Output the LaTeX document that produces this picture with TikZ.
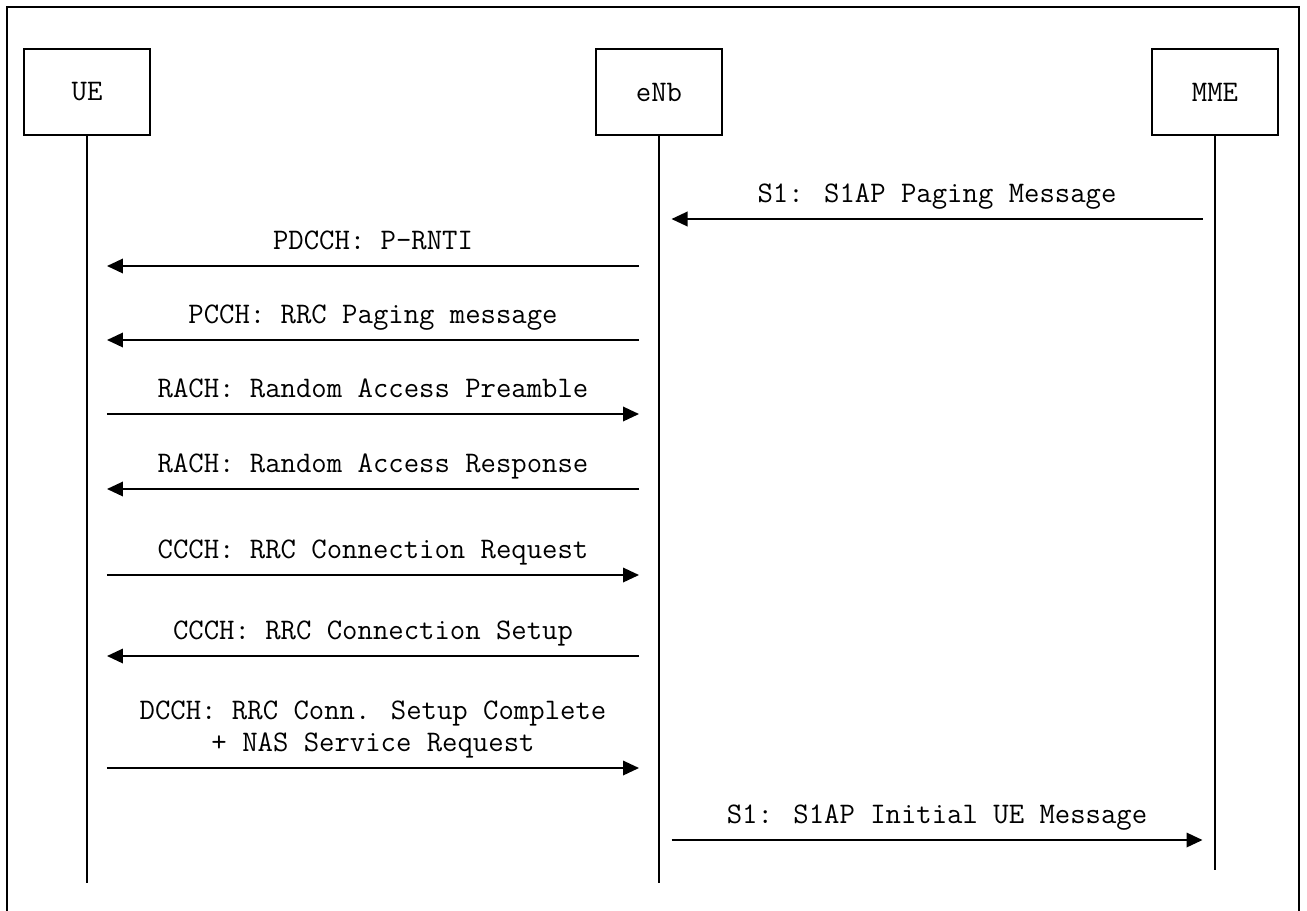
\documentclass[tikz,border=0pt]{standalone}
\usepackage{fontspec}
\usetikzlibrary{arrows.meta}

\begin{document}
\begin{tikzpicture}[x=0.02cm,y=-0.02cm,
  font=\fontsize{17}{18.4}\ttfamily,
  entity/.style={draw,line width=1.1pt,minimum width=2.52cm,minimum height=1.72cm,inner sep=0},
  life/.style={line width=1.1pt},
  msg/.style={line width=1.1pt,-{Triangle[length=0.32cm,width=0.29cm]}},
  near/.style={shorten <=0.4cm,shorten >=0.4cm},
  far/.style={shorten <=0.25cm,shorten >=0.25cm},
  txt/.style={anchor=base,yshift=0.34cm,inner sep=0},
  txt2/.style={above=0.18cm,inner sep=0,align=center}]
  \useasboundingbox (0,0) rectangle (1307,910);
  \draw[line width=1.5pt] (7,912) -- (7,7) -- (1299,7) -- (1299,912);

  \node[entity] (ue) at (87,92) {UE};
  \node[entity] (enb) at (659,92) {eNb};
  \node[entity] (mme) at (1215,92) {MME};
  \draw[life] (ue.south) -- (ue.south |- 0,883);
  \draw[life] (enb.south) -- (enb.south |- 0,883);
  \draw[life] (mme.south) -- (mme.south |- 0,870);

  \draw[msg,far] (mme |- 0,219) -- node[txt]{S1: S1AP Paging Message} (enb |- 0,219);
  \draw[msg,near] (enb |- 0,266) -- node[txt]{PDCCH: P-RNTI} (ue |- 0,266);
  \draw[msg,near] (enb |- 0,340) -- node[txt]{PCCH: RRC Paging message} (ue |- 0,340);
  \draw[msg,near] (ue |- 0,414) -- node[txt]{RACH: Random Access Preamble} (enb |- 0,414);
  \draw[msg,near] (enb |- 0,489) -- node[txt]{RACH: Random Access Response} (ue |- 0,489);
  \draw[msg,near] (ue |- 0,575) -- node[txt]{CCCH: RRC Connection Request} (enb |- 0,575);
  \draw[msg,near] (enb |- 0,656) -- node[txt]{CCCH: RRC Connection Setup} (ue |- 0,656);
  \draw[msg,near] (ue |- 0,768) -- node[txt2]{DCCH: RRC Conn. Setup Complete\\+ NAS Service Request} (enb |- 0,768);
  \draw[msg,far] (enb |- 0,840) -- node[txt]{S1: S1AP Initial UE Message} (mme |- 0,840);
\end{tikzpicture}
\end{document}
